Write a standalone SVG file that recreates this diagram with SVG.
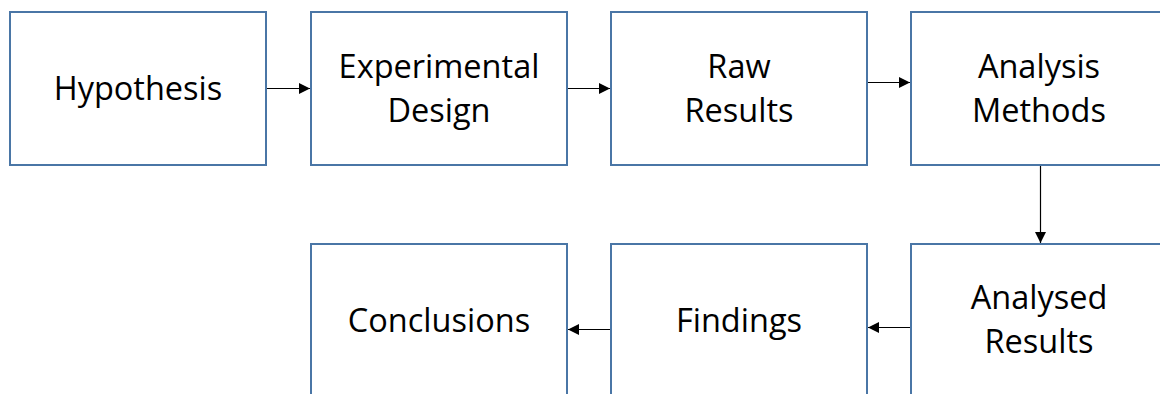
<svg xmlns="http://www.w3.org/2000/svg" width="1160" height="394" viewBox="0 0 1160 394">
  <style>
    .box { fill: #ffffff; stroke: #4a76a6; stroke-width: 2; }
    .label { font-family: "Open Sans", "Noto Sans", "Liberation Sans", sans-serif; font-size: 32.5px; fill: #000000; text-anchor: middle; }
    .conn { stroke: #000000; stroke-width: 1.2; fill: none; marker-end: url(#arrow); }
  </style>
  <defs>
    <marker id="arrow" markerUnits="userSpaceOnUse" markerWidth="11" markerHeight="11" refX="11" refY="5.5" orient="auto">
      <path d="M0,0 L11,5.5 L0,11 Z" fill="#000000"/>
    </marker>
  </defs>
  <rect width="1160" height="394" fill="#ffffff"/>

  <!-- top row -->
  <g id="hypothesis">
    <rect class="box" x="10" y="12" width="256" height="153"/>
    <text class="label" x="138" y="100">Hypothesis</text>
  </g>
  <g id="experimental-design">
    <rect class="box" x="311" y="12" width="256" height="153"/>
    <text class="label" x="439" y="78">Experimental</text>
    <text class="label" x="439" y="122">Design</text>
  </g>
  <g id="raw-results">
    <rect class="box" x="611" y="12" width="256" height="153"/>
    <text class="label" x="739" y="78">Raw</text>
    <text class="label" x="739" y="122">Results</text>
  </g>
  <g id="analysis-methods">
    <rect class="box" x="911" y="12" width="256" height="153"/>
    <text class="label" x="1039" y="78">Analysis</text>
    <text class="label" x="1039" y="122">Methods</text>
  </g>

  <!-- bottom row -->
  <g id="conclusions">
    <rect class="box" x="311" y="244" width="256" height="154"/>
    <text class="label" x="439" y="332">Conclusions</text>
  </g>
  <g id="findings">
    <rect class="box" x="611" y="244" width="256" height="154"/>
    <text class="label" x="739" y="332">Findings</text>
  </g>
  <g id="analysed-results">
    <rect class="box" x="911" y="244" width="256" height="154"/>
    <text class="label" x="1039" y="309">Analysed</text>
    <text class="label" x="1039" y="353">Results</text>
  </g>

  <!-- connectors -->
  <g id="connectors">
    <line class="conn" x1="267" y1="88.5" x2="310" y2="88.5"/>
    <line class="conn" x1="568" y1="88.5" x2="610" y2="88.5"/>
    <line class="conn" x1="868" y1="82.5" x2="910" y2="82.5"/>
    <line class="conn" x1="1040.5" y1="166" x2="1040.5" y2="243"/>
    <line class="conn" x1="910" y1="327.5" x2="868" y2="327.5"/>
    <line class="conn" x1="610" y1="329.5" x2="568" y2="329.5"/>
  </g>
</svg>
